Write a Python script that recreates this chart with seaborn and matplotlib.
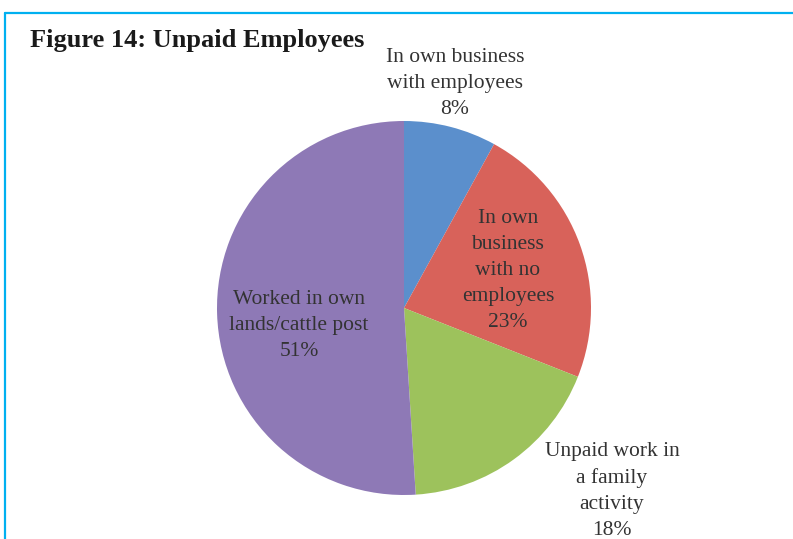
import matplotlib
matplotlib.use("Agg")
import matplotlib.pyplot as plt
from matplotlib.lines import Line2D
import seaborn as sns

# Unpaid employees by type of activity
categories = [
    "In own business\nwith employees",
    "In own\nbusiness\nwith no\nemployees",
    "Unpaid work in\na family\nactivity",
    "Worked in own\nlands/cattle post",
]
shares = [8, 23, 18, 51]
colors = ["#5B8FCC", "#D8625A", "#9DC25C", "#8E79B6"]
title = "Figure 14: Unpaid Employees"

# label anchor points in units of the pie radius
label_pos = [(0.273, 1.198), (0.556, 0.203), (1.112, -0.979), (-0.561, -0.096)]

sns.set_theme(style="white")
plt.rcParams["font.family"] = ["Liberation Serif", "DejaVu Serif"]

W, H = 793, 539
fig = plt.figure(figsize=(W / 100, H / 100), dpi=100)
fig.patch.set_facecolor("white")

cx, cy, R = 404, 308, 187
ax = fig.add_axes([0, 0, 1, 1])

ax.pie(shares, colors=colors, startangle=90, counterclock=False, radius=1,
       wedgeprops=dict(linewidth=0))

# same scale on both axes: R pixels per unit, pie centred at (cx, cy)
ax.set_aspect("auto")
ax.set_xlim(-cx / R, (W - cx) / R)
ax.set_ylim(-(H - cy) / R, cy / R)
ax.axis("off")

for cat, val, (x, y) in zip(categories, shares, label_pos):
    ax.text(x, y, f"{cat}\n{val}%", ha="center", va="center",
            fontsize=15.5, color="#333333", linespacing=1.5)

# frame lines along the top and left edge
fig.add_artist(Line2D([5 / W, 1], [1 - 13 / H, 1 - 13 / H], color="#00B0F0",
                      lw=1.6, transform=fig.transFigure))
fig.add_artist(Line2D([5 / W, 5 / W], [0, 1 - 13 / H], color="#00B0F0",
                      lw=1.6, transform=fig.transFigure))

fig.text(30 / W, 1 - 40 / H, title, ha="left", va="center",
         fontsize=19, fontweight="bold", color="#1a1a1a")

fig.savefig("out.png", dpi=100)
